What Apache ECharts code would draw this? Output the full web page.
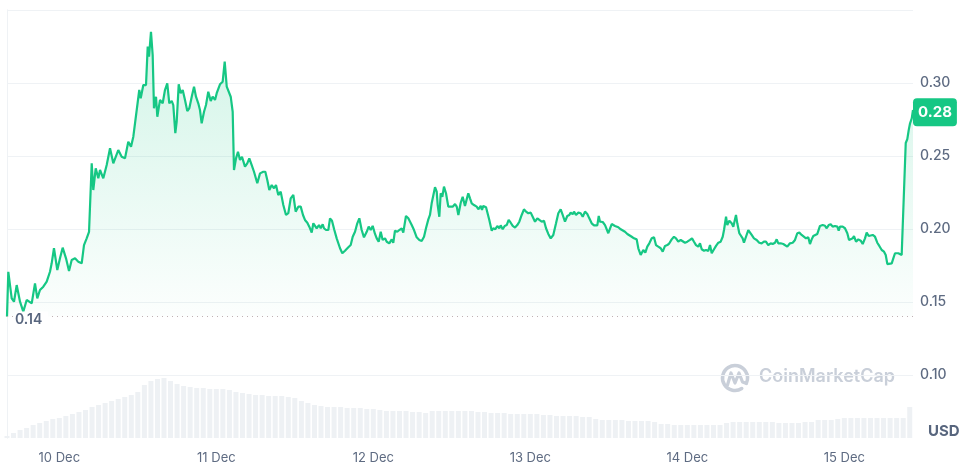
<!DOCTYPE html>
<html><head><meta charset="utf-8">
<script src="https://cdn.jsdelivr.net/npm/echarts@6/dist/echarts.min.js"></script>
<style>html,body{margin:0;padding:0;background:#fff}#c{width:970px;height:466px}</style>
</head><body><div id="c"></div>
<script>
// Start of the chart window (local time) and its length in hours
const startTime = new Date(2023, 11, 9, 16, 0, 0).getTime();
const spanHours = 138.5;
const dayLabels = [10, 11, 12, 13, 14, 15];
const lowPrice = 0.14;
const lastPriceText = '0.28';
const unitLabel = 'USD';

// [hours since start, price in USD]
const priceSeries = [
[0,0.1400],[0.20,0.1707],[0.72,0.1525],[1.07,0.1502],[1.48,0.1616],[1.99,0.1502],[2.49,0.1434],[3.01,0.1514],[3.78,0.1491],[4.28,0.1628],
[4.63,0.1525],[5.04,0.1582],[5.55,0.1605],[6.07,0.1639],[6.57,0.1707],[6.83,0.1765],[7.18,0.1868],[7.69,0.1719],[8.10,0.1799],[8.51,0.1872],
[9.02,0.1799],[9.48,0.1712],[9.89,0.1788],[10.40,0.1799],[10.90,0.1776],[11.42,0.1765],[11.77,0.1890],[12.18,0.1936],[12.54,0.1981],[12.95,0.2450],
[13.19,0.2267],[13.56,0.2416],[13.96,0.2347],[14.22,0.2404],[14.72,0.2347],[15.24,0.2438],[15.49,0.2427],[15.75,0.2553],[16.25,0.2450],[17.01,0.2541],
[17.53,0.2495],[18.04,0.2484],[18.54,0.2598],[18.96,0.2564],[19.31,0.2632],[19.57,0.2621],[20.22,0.2952],[20.44,0.2895],[20.84,0.2986],[21.25,0.2986],
[21.51,0.3249],[21.71,0.3180],[22.01,0.3351],[22.27,0.3192],[22.47,0.2827],[22.78,0.2906],[22.98,0.2769],[23.39,0.2884],[23.80,0.2861],[24.15,0.2952],
[24.50,0.2998],[24.81,0.2861],[25.18,0.2877],[25.42,0.2849],[25.73,0.2656],[25.94,0.2735],[26.25,0.2991],[26.55,0.2930],[26.86,0.2952],[27.21,0.2884],
[27.56,0.2808],[27.87,0.2827],[28.24,0.2906],[28.59,0.2975],[28.89,0.2906],[29.24,0.2861],[29.50,0.2815],[29.76,0.2724],[30.12,0.2803],[30.42,0.2849],
[30.77,0.2940],[31.14,0.2877],[31.44,0.2906],[31.80,0.2884],[32.06,0.2930],[32.30,0.2918],[32.56,0.2991],[32.97,0.3009],[33.28,0.3146],[33.59,0.2975],
[33.89,0.2975],[34.20,0.2906],[34.50,0.2803],[34.70,0.2404],[35.01,0.2484],[35.31,0.2529],[35.62,0.2473],[35.92,0.2495],[36.38,0.2427],[36.73,0.2450],
[37.04,0.2484],[37.41,0.2438],[37.76,0.2392],[38.26,0.2313],[38.68,0.2381],[39.18,0.2392],[39.49,0.2392],[39.79,0.2336],[40.10,0.2267],[40.47,0.2301],
[40.82,0.2279],[41.12,0.2301],[41.47,0.2233],[41.84,0.2256],[42.24,0.2164],[42.65,0.2096],[43.00,0.2108],[43.37,0.2210],[43.77,0.2233],[44.13,0.2119],
[44.53,0.2153],[44.90,0.2153],[45.25,0.2096],[45.55,0.2062],[45.91,0.2043],[46.21,0.2016],[46.58,0.1975],[46.83,0.2039],[47.08,0.2050],[47.34,0.2005],
[47.70,0.2027],[47.96,0.2005],[48.26,0.2032],[48.46,0.2005],[48.77,0.1993],[49.12,0.1993],[49.38,0.2073],[49.68,0.2057],[50.04,0.1993],[50.40,0.1936],
[50.65,0.1925],[50.91,0.1868],[51.26,0.1834],[51.67,0.1851],[52.18,0.1875],[52.54,0.1890],[52.85,0.1947],[53.20,0.1981],[53.55,0.2039],[53.86,0.2073],
[54.22,0.1993],[54.57,0.1943],[54.99,0.1981],[55.29,0.2016],[55.60,0.1993],[55.90,0.2021],[56.26,0.1966],[56.52,0.1936],[56.82,0.1913],[57.13,0.1981],
[57.43,0.1925],[57.79,0.1936],[58.05,0.1913],[58.29,0.1925],[58.44,0.1902],[58.81,0.1929],[59.05,0.1906],[59.31,0.1988],[59.66,0.1981],[59.97,0.1993],
[60.34,0.2005],[60.58,0.1975],[60.99,0.2089],[61.35,0.2073],[61.61,0.2084],[61.87,0.2027],[62.22,0.1993],[62.63,0.1943],[63.03,0.1925],[63.39,0.1918],
[63.75,0.1947],[64.05,0.2005],[64.41,0.2066],[64.66,0.2096],[64.92,0.2176],[65.17,0.2187],[65.43,0.2286],[65.69,0.2256],[65.84,0.2164],[66.09,0.2084],
[66.30,0.2245],[66.55,0.2221],[66.80,0.2290],[67.11,0.2245],[67.46,0.2153],[67.72,0.2164],[68.13,0.2153],[68.49,0.2171],[68.75,0.2153],[69.00,0.2096],
[69.36,0.2180],[69.66,0.2221],[70.01,0.2158],[70.27,0.2203],[70.52,0.2245],[70.78,0.2210],[71.04,0.2176],[71.39,0.2164],[71.80,0.2153],[72.05,0.2135],
[72.42,0.2158],[72.61,0.2130],[72.81,0.2158],[73.23,0.2149],[73.42,0.2153],[73.73,0.2062],[74.10,0.1988],[74.34,0.2005],[74.65,0.1998],[74.95,0.2021],
[75.26,0.2005],[75.47,0.2025],[75.78,0.1998],[76.08,0.2021],[76.39,0.2027],[76.69,0.2062],[77.00,0.2043],[77.31,0.2021],[77.66,0.2010],[78.01,0.2027],
[78.32,0.2050],[78.68,0.2096],[79.03,0.2135],[79.34,0.2119],[79.69,0.2108],[80.06,0.2112],[80.36,0.2084],[80.72,0.2050],[81.07,0.2073],[81.38,0.2062],
[81.74,0.2050],[82.09,0.2057],[82.40,0.2005],[82.75,0.1966],[83.12,0.1936],[83.51,0.1959],[83.93,0.2039],[84.28,0.2108],[84.64,0.2135],[84.95,0.2096],
[85.30,0.2050],[85.65,0.2089],[85.96,0.2096],[86.17,0.2112],[86.48,0.2101],[86.68,0.2119],[86.98,0.2096],[87.34,0.2112],[87.70,0.2108],[88.01,0.2084],
[88.36,0.2119],[88.71,0.2103],[89.02,0.2073],[89.38,0.2039],[89.74,0.2025],[90.04,0.2034],[90.24,0.2025],[90.46,0.2089],[90.65,0.2050],[91.07,0.2048],
[91.42,0.2027],[91.92,0.1971],[92.44,0.2034],[92.95,0.2021],[93.45,0.2012],[93.82,0.1998],[94.12,0.2005],[94.47,0.1981],[94.83,0.1966],[95.13,0.1971],
[95.50,0.1947],[95.85,0.1936],[96.26,0.1929],[96.51,0.1868],[96.87,0.1822],[97.27,0.1856],[97.58,0.1838],[97.88,0.1879],[98.19,0.1902],[98.56,0.1936],
[98.91,0.1943],[99.21,0.1890],[99.56,0.1879],[99.93,0.1868],[100.24,0.1845],[100.59,0.1884],[100.94,0.1890],[101.25,0.1902],[101.61,0.1929],[101.96,0.1947],
[102.27,0.1936],[102.62,0.1913],[102.99,0.1925],[103.29,0.1920],[103.65,0.1906],[104.00,0.1913],[104.41,0.1925],[104.72,0.1936],[105.02,0.1913],[105.33,0.1890],
[105.68,0.1879],[105.94,0.1902],[106.20,0.1861],[106.55,0.1851],[106.86,0.1856],[107.21,0.1850],[107.47,0.1890],[107.73,0.1834],[108.08,0.1861],[108.39,0.1884],
[108.74,0.1906],[109.10,0.1913],[109.41,0.1947],[109.61,0.1993],[109.92,0.2084],[110.11,0.2027],[110.42,0.2057],[110.78,0.2039],[111.03,0.2016],[111.44,0.2096],
[111.64,0.2039],[111.95,0.1971],[112.16,0.1981],[112.46,0.1936],[112.66,0.1906],[112.97,0.1947],[113.32,0.1993],[113.58,0.2005],[113.84,0.1959],[114.19,0.1936],
[114.60,0.1925],[114.99,0.1906],[115.36,0.1902],[115.71,0.1913],[116.02,0.1913],[116.37,0.1890],[116.74,0.1902],[117.05,0.1897],[117.40,0.1906],[117.66,0.1929],
[117.91,0.1902],[118.27,0.1902],[118.67,0.1897],[118.97,0.1906],[119.28,0.1879],[119.69,0.1902],[120.11,0.1906],[120.46,0.1925],[120.81,0.1971],[121.12,0.1975],
[121.48,0.1959],[121.73,0.1966],[122.14,0.1936],[122.49,0.1943],[122.75,0.1897],[123.01,0.1929],[123.26,0.1952],[123.56,0.1943],[123.87,0.1966],[124.28,0.2021],
[124.69,0.2027],[125.05,0.2022],[125.31,0.2005],[125.61,0.2027],[125.92,0.2032],[126.22,0.2016],[126.57,0.2021],[126.93,0.2016],[127.14,0.1988],[127.34,0.2016],
[127.75,0.2016],[128.10,0.2005],[128.46,0.1971],[128.72,0.1925],[128.98,0.1913],[129.28,0.1936],[129.48,0.1952],[129.79,0.1913],[130.14,0.1929],[130.51,0.1920],
[130.81,0.1897],[131.16,0.1936],[131.42,0.1975],[131.73,0.1952],[132.03,0.1947],[132.34,0.1959],[132.69,0.1947],[133.04,0.1906],[133.35,0.1884],[133.72,0.1856],
[134.07,0.1845],[134.33,0.1822],[134.58,0.1760],[134.88,0.1769],[135.25,0.1765],[135.49,0.1799],[135.75,0.1834],[136.01,0.1838],[136.26,0.1834],[136.51,0.1845],
[136.77,0.1822],[137.02,0.1822],[137.39,0.2589],[137.63,0.2616],[137.85,0.2679],[138.05,0.2724],[138.31,0.2758],[138.50,0.2815]
];

// Hourly trading volume (millions USD), one value per hour from the start
const volumeHourly = [
0.2,0.5,0.8,1.0,1.3,1.5,1.7,1.9,2.0,2.2,
2.4,2.6,2.8,3.1,3.3,3.5,3.7,3.9,4.1,4.3,
4.6,5.3,5.7,5.9,6.0,5.7,5.4,5.2,5.1,5.0,
5.0,4.9,4.9,4.9,4.8,4.6,4.5,4.4,4.3,4.3,
4.2,4.2,4.2,4.1,4.0,3.7,3.5,3.3,3.2,3.1,
3.1,3.1,3.0,3.0,3.0,2.9,2.9,2.8,2.7,2.7,
2.7,2.7,2.6,2.6,2.5,2.7,2.7,2.7,2.7,2.7,
2.7,2.7,2.6,2.6,2.5,2.5,2.5,2.4,2.4,2.4,
2.4,2.4,2.3,2.3,2.2,2.2,2.2,2.2,2.1,2.1,
1.9,1.8,1.8,1.8,1.8,1.7,1.7,1.7,1.7,1.6,
1.4,1.4,1.3,1.3,1.3,1.3,1.3,1.3,1.3,1.3,
1.5,1.6,1.6,1.6,1.6,1.6,1.6,1.6,1.5,1.5,
1.5,1.5,1.6,1.6,1.8,1.8,1.8,1.9,2.0,2.0,
2.0,2.0,2.0,2.0,2.0,2.0,2.0,2.0,3.1
];

const HOUR = 3600 * 1000;
const volumeData = volumeHourly.map((v, i) => [i, v]);
const lastPrice = priceSeries[priceSeries.length - 1][1];
// day label positions, in hours since start
const dayTicks = dayLabels.map(d => (new Date(2023, 11, d).getTime() - startTime) / HOUR);

const FONT = 'Inter, "Noto Sans", sans-serif';
const GREEN = '#16c784';
const GRID_COLOR = '#eff2f5';
const TEXT = '#5e6b82';

const chart = echarts.init(document.getElementById('c'), null, {renderer: 'canvas'});
chart.setOption({
  animation: false,
  backgroundColor: '#fff',
  textStyle: {fontFamily: FONT},
  title: {
    text: unitLabel, left: 928, top: 424, padding: 0,
    textStyle: {fontSize: 15, fontWeight: 700, color: '#58667e', fontFamily: FONT}
  },
  grid: [
    {left: 7, right: 57, top: 10, bottom: 18},
    {left: 7, right: 57, top: 10, bottom: 28}
  ],
  xAxis: [
    {type: 'value', gridIndex: 0, min: 0, max: spanHours, show: false},
    {type: 'value', gridIndex: 1, min: 0, max: spanHours,
      axisLine: {show: false}, axisTick: {show: false}, splitLine: {show: false},
      axisLabel: {
        customValues: dayTicks, margin: 14, color: TEXT, fontSize: 13, fontFamily: FONT,
        formatter: v => new Date(startTime + v * HOUR).getDate() + ' Dec'
      }
    }
  ],
  yAxis: [
    {type: 'value', gridIndex: 0, position: 'right', min: 0.05, max: 0.35, interval: 0.05,
      axisLine: {show: false}, axisTick: {show: false},
      axisLabel: {margin: 7, color: TEXT, fontSize: 14, fontWeight: 500, fontFamily: FONT, showMinLabel: false, showMaxLabel: false,
        formatter: v => v.toFixed(2)},
      splitLine: {show: true, lineStyle: {color: ['rgba(0,0,0,0)', GRID_COLOR, GRID_COLOR, GRID_COLOR, GRID_COLOR, GRID_COLOR, GRID_COLOR], width: 1}}
    },
    {type: 'value', gridIndex: 1, position: 'right', min: 0, max: 42.8,
      axisLine: {show: true, lineStyle: {color: GRID_COLOR}}, axisTick: {show: false},
      axisLabel: {show: false}, splitLine: {show: false}},
    {type: 'value', gridIndex: 1, position: 'left', min: 0, max: 42.8,
      axisLine: {show: true, lineStyle: {color: GRID_COLOR}}, axisTick: {show: false},
      axisLabel: {show: false}, splitLine: {show: false}}
  ],
  graphic: [
    {type: 'arc', z: 0, shape: {cx: 735, cy: 378, r: 12.5, startAngle: 1.0, endAngle: 6.7},
      style: {stroke: '#c9cfd9', lineWidth: 3.5, fill: 'none', lineCap: 'round'}},
    {type: 'polyline', z: 0, shape: {points: [[727.5, 385], [731, 373], [735, 383], [739, 373], [742.5, 382], [746.5, 383.5]]},
      style: {stroke: '#c9cfd9', lineWidth: 3.2, fill: 'none', lineJoin: 'round', lineCap: 'round'}},
    {type: 'text', z: 0, left: 759, top: 368,
      style: {text: 'CoinMarketCap', fill: '#c9cfd9', font: '600 18px ' + FONT}}
  ],
  series: [
    {
      type: 'bar', xAxisIndex: 1, yAxisIndex: 1, data: volumeData, barWidth: 5,
      itemStyle: {color: '#eef1f4'}, silent: true, z: 1
    },
    {
      type: 'line', xAxisIndex: 0, yAxisIndex: 0, data: priceSeries, z: 3,
      showSymbol: false, symbol: 'none', smooth: false,
      lineStyle: {color: GREEN, width: 2.2},
      areaStyle: {
        origin: lowPrice,
        color: new echarts.graphic.LinearGradient(0, 0, 0, 1, [
          {offset: 0, color: 'rgba(22,199,132,0.28)'},
          {offset: 1, color: 'rgba(22,199,132,0.02)'}
        ])
      },
      markLine: {
        silent: true, symbol: 'none', animation: false,
        data: [
          {yAxis: lowPrice,
            lineStyle: {color: '#bfb1b4', type: [1, 4], width: 1},
            label: {show: true, position: 'insideStart', distance: 8, offset: [0, 3], formatter: lowPrice.toFixed(2),
              color: '#58667e', fontSize: 14, fontWeight: 600, fontFamily: FONT,
              backgroundColor: '#fff', padding: [1, 6, 1, 0]}},
          {yAxis: lastPrice,
            lineStyle: {color: 'rgba(0,0,0,0)', width: 1},
            label: {show: true, position: 'end', distance: 0, formatter: lastPriceText,
              color: '#fff', fontSize: 15, fontWeight: 700, fontFamily: FONT,
              backgroundColor: GREEN, borderRadius: 4, padding: [7, 5, 6, 5]}}
        ]
      }
    }
  ]
});
</script>
</body></html>
